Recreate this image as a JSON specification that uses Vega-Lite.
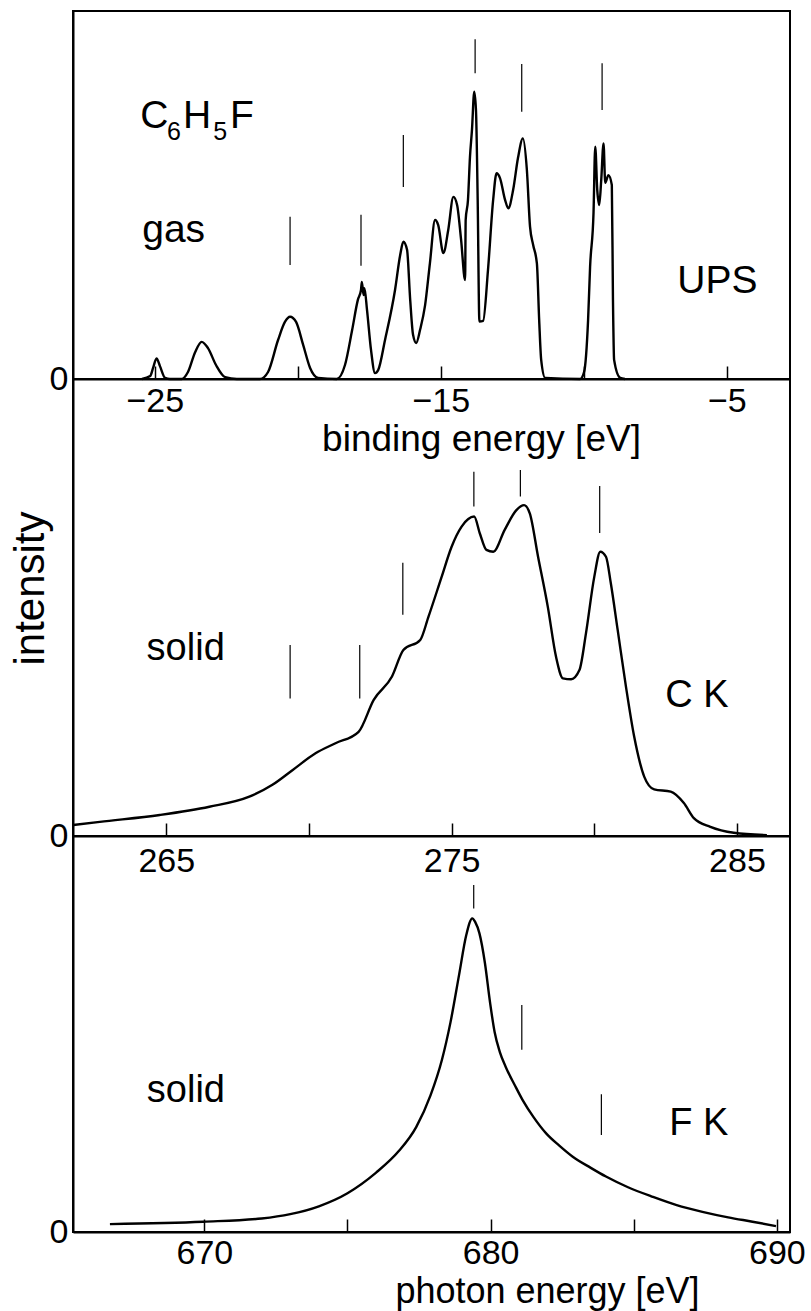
{
  "$schema": "https://vega.github.io/schema/vega-lite/v6.json",
  "autosize": {"type": "none"},
  "padding": {"left": 73, "top": 11, "right": 738, "bottom": 1300},
  "background": "white",
  "datasets": {
    "ups": [
      {"e": -25.45, "i": 0}, {"e": -25.16, "i": 0.8}, {"e": -25.06, "i": 3.0}, {"e": -24.94, "i": 5.6}, {"e": -24.82, "i": 3.5}, {"e": -24.64, "i": 0.3}, {"e": -24.47, "i": 0},
      {"e": -24.06, "i": 0}, {"e": -23.84, "i": 1.9}, {"e": -23.59, "i": 7.3}, {"e": -23.36, "i": 10.1}, {"e": -23.14, "i": 8.4}, {"e": -22.86, "i": 3.8}, {"e": -22.54, "i": 0.5}, {"e": -22.13, "i": 0},
      {"e": -21.32, "i": 0}, {"e": -21.04, "i": 1.9}, {"e": -20.69, "i": 10.6}, {"e": -20.45, "i": 15.5}, {"e": -20.27, "i": 16.9}, {"e": -20.06, "i": 15.5}, {"e": -19.81, "i": 9.2}, {"e": -19.57, "i": 3.0}, {"e": -19.29, "i": 0.3},
      {"e": -18.64, "i": 0}, {"e": -18.35, "i": 3.8}, {"e": -18.10, "i": 13.3}, {"e": -17.90, "i": 21.5}, {"e": -17.79, "i": 24.2}, {"e": -17.76, "i": 26.4}, {"e": -17.70, "i": 22.8}, {"e": -17.67, "i": 24.7}, {"e": -17.58, "i": 18.8}, {"e": -17.44, "i": 7.9}, {"e": -17.30, "i": 1.6},
      {"e": -17.19, "i": 2.4}, {"e": -16.95, "i": 10.6}, {"e": -16.60, "i": 24.2}, {"e": -16.42, "i": 33.7}, {"e": -16.31, "i": 37.3}, {"e": -16.18, "i": 35.1}, {"e": -16.07, "i": 21.5}, {"e": -15.97, "i": 12.0}, {"e": -15.86, "i": 9.8},
      {"e": -15.72, "i": 13.5}, {"e": -15.55, "i": 20.0}, {"e": -15.38, "i": 31.5}, {"e": -15.20, "i": 43.2}, {"e": -15.09, "i": 41.8}, {"e": -14.91, "i": 34.2}, {"e": -14.74, "i": 40.5}, {"e": -14.56, "i": 49.5}, {"e": -14.43, "i": 47.3}, {"e": -14.29, "i": 37.8}, {"e": -14.15, "i": 26.9},
      {"e": -14.13, "i": 43.2}, {"e": -14.05, "i": 48.6}, {"e": -13.98, "i": 60.3}, {"e": -13.91, "i": 67.7}, {"e": -13.83, "i": 78.1}, {"e": -13.77, "i": 73.1}, {"e": -13.71, "i": 48.6}, {"e": -13.65, "i": 15.6}, {"e": -13.52, "i": 15.8},
      {"e": -13.35, "i": 29.6}, {"e": -13.17, "i": 48.6}, {"e": -13.05, "i": 55.9}, {"e": -12.93, "i": 54.6}, {"e": -12.75, "i": 48.6}, {"e": -12.64, "i": 46.4}, {"e": -12.47, "i": 51.4}, {"e": -12.30, "i": 60.1}, {"e": -12.13, "i": 65.4},
      {"e": -11.99, "i": 56.8}, {"e": -11.88, "i": 41.4}, {"e": -11.77, "i": 36.4}, {"e": -11.64, "i": 31.4}, {"e": -11.56, "i": 16.0}, {"e": -11.49, "i": 5.2}, {"e": -11.35, "i": 0.3},
      {"e": -10.13, "i": 0}, {"e": -9.99, "i": 1.9}, {"e": -9.85, "i": 16.0}, {"e": -9.78, "i": 30.5}, {"e": -9.66, "i": 45.1}, {"e": -9.60, "i": 63.1}, {"e": -9.53, "i": 51.4}, {"e": -9.46, "i": 47.3}, {"e": -9.39, "i": 54.1}, {"e": -9.31, "i": 64.0},
      {"e": -9.25, "i": 53.3}, {"e": -9.14, "i": 55.4}, {"e": -9.02, "i": 52.7}, {"e": -8.98, "i": 21.5}, {"e": -8.94, "i": 5.2}, {"e": -8.73, "i": 0.3}, {"e": -8.56, "i": 0}
    ],
    "ups_marks": [
      {"e": -20.27, "i1": 31.0, "i2": 44.1}, {"e": -17.79, "i1": 30.8, "i2": 44.6}, {"e": -16.31, "i1": 52.2, "i2": 66.3},
      {"e": -13.80, "i1": 83.1, "i2": 92.3}, {"e": -12.17, "i1": 72.6, "i2": 85.6}, {"e": -9.36, "i1": 73.1, "i2": 85.8}
    ],
    "ups_text": [
      {"label": "C", "e": -25.51, "i": 68.2}, {"label": "H", "e": -24.01, "i": 68.2}, {"label": "F", "e": -22.37, "i": 68.2},
      {"label": "gas", "e": -25.44, "i": 37.3}, {"label": "UPS", "e": -6.73, "i": 23.4}
    ],
    "ups_sub": [
      {"label": "6", "e": -24.57, "i": 64.9}, {"label": "5", "e": -22.96, "i": 64.9}
    ],
    "ck": [
      {"e": 261.74, "i": 2.4}, {"e": 262.67, "i": 3.1}, {"e": 264.77, "i": 4.6}, {"e": 266.51, "i": 6.4}, {"e": 267.91, "i": 8.6}, {"e": 268.72, "i": 11.2}, {"e": 269.42, "i": 14.4},
      {"e": 270.23, "i": 18.1}, {"e": 270.93, "i": 20.3}, {"e": 271.74, "i": 22.8}, {"e": 272.27, "i": 29.8}, {"e": 272.91, "i": 34.9}, {"e": 273.31, "i": 40.7}, {"e": 273.90, "i": 42.9},
      {"e": 274.19, "i": 48.0}, {"e": 274.65, "i": 56.7}, {"e": 275.00, "i": 63.3}, {"e": 275.35, "i": 67.7}, {"e": 275.79, "i": 69.9}, {"e": 275.99, "i": 66.2}, {"e": 276.22, "i": 62.6},
      {"e": 276.46, "i": 62.2}, {"e": 276.86, "i": 67.0}, {"e": 277.27, "i": 71.3}, {"e": 277.54, "i": 72.4}, {"e": 277.74, "i": 70.6}, {"e": 278.03, "i": 61.1}, {"e": 278.37, "i": 50.2},
      {"e": 278.66, "i": 39.2}, {"e": 278.90, "i": 34.5}, {"e": 279.19, "i": 34.3}, {"e": 279.48, "i": 36.3}, {"e": 279.71, "i": 44.4}, {"e": 280.00, "i": 56.7}, {"e": 280.21, "i": 62.2},
      {"e": 280.41, "i": 61.1}, {"e": 280.58, "i": 55.3}, {"e": 280.82, "i": 45.1}, {"e": 281.11, "i": 32.7}, {"e": 281.40, "i": 21.7}, {"e": 281.75, "i": 13.0}, {"e": 282.10, "i": 10.2},
      {"e": 282.68, "i": 9.7}, {"e": 283.14, "i": 7.2}, {"e": 283.49, "i": 3.9}, {"e": 284.07, "i": 2.0}, {"e": 284.89, "i": 0.7}, {"e": 286.05, "i": 0.2}
    ],
    "ck_marks": [
      {"e": 269.34, "i1": 30.1, "i2": 41.8}, {"e": 271.78, "i1": 30.1, "i2": 41.8}, {"e": 273.29, "i1": 48.4, "i2": 59.8},
      {"e": 275.78, "i1": 72.1, "i2": 79.7}, {"e": 277.41, "i1": 74.3, "i2": 80.1}, {"e": 280.19, "i1": 66.3, "i2": 76.6}
    ],
    "ck_text": [
      {"label": "solid", "e": 264.31, "i": 38.5}, {"label": "C K", "e": 282.49, "i": 28.2}
    ],
    "fk": [
      {"e": 666.70, "i": 2.0}, {"e": 669.96, "i": 2.6}, {"e": 672.0, "i": 3.4}, {"e": 673.0, "i": 4.5}, {"e": 674.0, "i": 6.5}, {"e": 675.0, "i": 9.8}, {"e": 676.0, "i": 15.0},
      {"e": 676.8, "i": 20.5}, {"e": 677.4, "i": 26.5}, {"e": 677.9, "i": 34.5}, {"e": 678.3, "i": 43.5}, {"e": 678.6, "i": 53.0}, {"e": 678.9, "i": 65.0}, {"e": 679.15, "i": 75.0},
      {"e": 679.36, "i": 79.2}, {"e": 679.46, "i": 78.3}, {"e": 679.61, "i": 75.4}, {"e": 679.8, "i": 68.0}, {"e": 679.98, "i": 58.0}, {"e": 680.14, "i": 50.5}, {"e": 680.32, "i": 45.5},
      {"e": 680.54, "i": 41.5}, {"e": 680.85, "i": 37.0}, {"e": 681.12, "i": 33.3}, {"e": 681.5, "i": 29.0}, {"e": 681.94, "i": 24.9}, {"e": 682.4, "i": 21.8}, {"e": 682.87, "i": 19.0},
      {"e": 683.5, "i": 16.2}, {"e": 684.03, "i": 14.0}, {"e": 684.8, "i": 11.3}, {"e": 685.66, "i": 8.9}, {"e": 686.5, "i": 6.8}, {"e": 687.4, "i": 5.1}, {"e": 688.3, "i": 3.7},
      {"e": 689.15, "i": 2.6}, {"e": 689.97, "i": 1.5}
    ],
    "fk_marks": [
      {"e": 679.41, "i1": 81.7, "i2": 87.6}, {"e": 681.09, "i1": 46.0, "i2": 57.3}, {"e": 683.87, "i1": 24.5, "i2": 34.8}
    ],
    "fk_text": [
      {"label": "solid", "e": 667.99, "i": 32.8}, {"label": "F K", "e": 686.24, "i": 24.5}
    ]
  },
  "spacing": 0,
  "bounds": "flush",
  "vconcat": [
    {
      "width": 717,
      "height": 368,
      "encoding": {
        "x": {"field": "e", "type": "quantitative", "scale": {"domain": [-27.86, -2.79], "nice": false, "zero": false},
          "axis": {"title": "binding energy [eV]", "values": [-25, -20, -15, -10, -5], "labelExpr": "datum.value % 10 == -5 ? datum.label : ''",
            "tickSize": -13, "labelPadding": 45, "labelBaseline": "alphabetic", "titleX": 408, "titleY": 71, "titleBaseline": "alphabetic", "titleAlign": "center"}},
        "y": {"field": "i", "type": "quantitative", "scale": {"domain": [0, 100], "nice": false},
          "axis": {"title": null, "values": [0], "ticks": false, "labelPadding": 5, "labelBaseline": "middle"}}
      },
      "layer": [
        {"data": {"name": "ups"}, "mark": {"type": "line", "color": "black", "strokeWidth": 2.4, "interpolate": "monotone"}},
        {"data": {"name": "ups_marks"}, "mark": {"type": "rule", "color": "black", "strokeWidth": 1.2},
          "encoding": {"y": {"field": "i1", "type": "quantitative"}, "y2": {"field": "i2"}}},
        {"data": {"name": "ups_text"}, "mark": {"type": "text", "align": "left", "baseline": "alphabetic", "fontSize": 39},
          "encoding": {"text": {"field": "label"}}},
        {"data": {"name": "ups_sub"}, "mark": {"type": "text", "align": "left", "baseline": "alphabetic", "fontSize": 25},
          "encoding": {"text": {"field": "label"}}}
      ]
    },
    {
      "width": 717,
      "height": 457,
      "encoding": {
        "x": {"field": "e", "type": "quantitative", "scale": {"domain": [261.73, 286.86], "nice": false, "zero": false},
          "axis": {"title": null, "values": [265, 270, 275, 280, 285], "labelExpr": "datum.value % 10 == 5 ? datum.label : ''",
            "tickSize": -13, "labelPadding": 48, "labelBaseline": "alphabetic"}},
        "y": {"field": "i", "type": "quantitative", "scale": {"domain": [0, 100], "nice": false},
          "axis": {"title": "intensity", "values": [0], "ticks": false, "labelPadding": 5, "labelBaseline": "middle",
            "titleX": -30, "titleY": 209, "titleAngle": 270, "titleAlign": "center", "titleBaseline": "alphabetic", "titleFontSize": 42}}
      },
      "layer": [
        {"data": {"name": "ck"}, "mark": {"type": "line", "color": "black", "strokeWidth": 2.4, "interpolate": "monotone"}},
        {"data": {"name": "ck_marks"}, "mark": {"type": "rule", "color": "black", "strokeWidth": 1.2},
          "encoding": {"y": {"field": "i1", "type": "quantitative"}, "y2": {"field": "i2"}}},
        {"data": {"name": "ck_text"}, "mark": {"type": "text", "align": "left", "baseline": "alphabetic", "fontSize": 38},
          "encoding": {"text": {"field": "label"}}}
      ]
    },
    {
      "width": 717,
      "height": 396,
      "encoding": {
        "x": {"field": "e", "type": "quantitative", "scale": {"domain": [665.41, 690.46], "nice": false, "zero": false},
          "axis": {"title": "photon energy [eV]", "values": [670, 675, 680, 685, 690], "labelExpr": "datum.value % 10 == 0 ? datum.label : ''",
            "tickSize": -13, "labelPadding": 44, "labelBaseline": "alphabetic", "titleX": 474, "titleY": 70, "titleBaseline": "alphabetic", "titleAlign": "center", "titleFontSize": 36}},
        "y": {"field": "i", "type": "quantitative", "scale": {"domain": [0, 100], "nice": false},
          "axis": {"title": null, "values": [0], "ticks": false, "labelPadding": 5, "labelBaseline": "middle"}}
      },
      "layer": [
        {"data": {"name": "fk"}, "mark": {"type": "line", "color": "black", "strokeWidth": 2.4, "interpolate": "monotone"}},
        {"data": {"name": "fk_marks"}, "mark": {"type": "rule", "color": "black", "strokeWidth": 1.2},
          "encoding": {"y": {"field": "i1", "type": "quantitative"}, "y2": {"field": "i2"}}},
        {"data": {"name": "fk_text"}, "mark": {"type": "text", "align": "left", "baseline": "alphabetic", "fontSize": 38},
          "encoding": {"text": {"field": "label"}}}
      ]
    }
  ],
  "config": {
    "font": "Liberation Sans",
    "view": {"stroke": "black", "strokeWidth": 2},
    "axis": {"grid": false, "labelFont": "Liberation Sans", "titleFont": "Liberation Sans", "labelFontSize": 34, "titleFontSize": 37,
      "titleFontWeight": "normal", "labelColor": "black", "titleColor": "black", "domainColor": "black", "tickColor": "black",
      "domainWidth": 2, "tickWidth": 1.5, "labelFlush": false, "labelOverlap": false, "titlePadding": 0},
    "text": {"font": "Liberation Sans", "color": "black"}
  }
}
